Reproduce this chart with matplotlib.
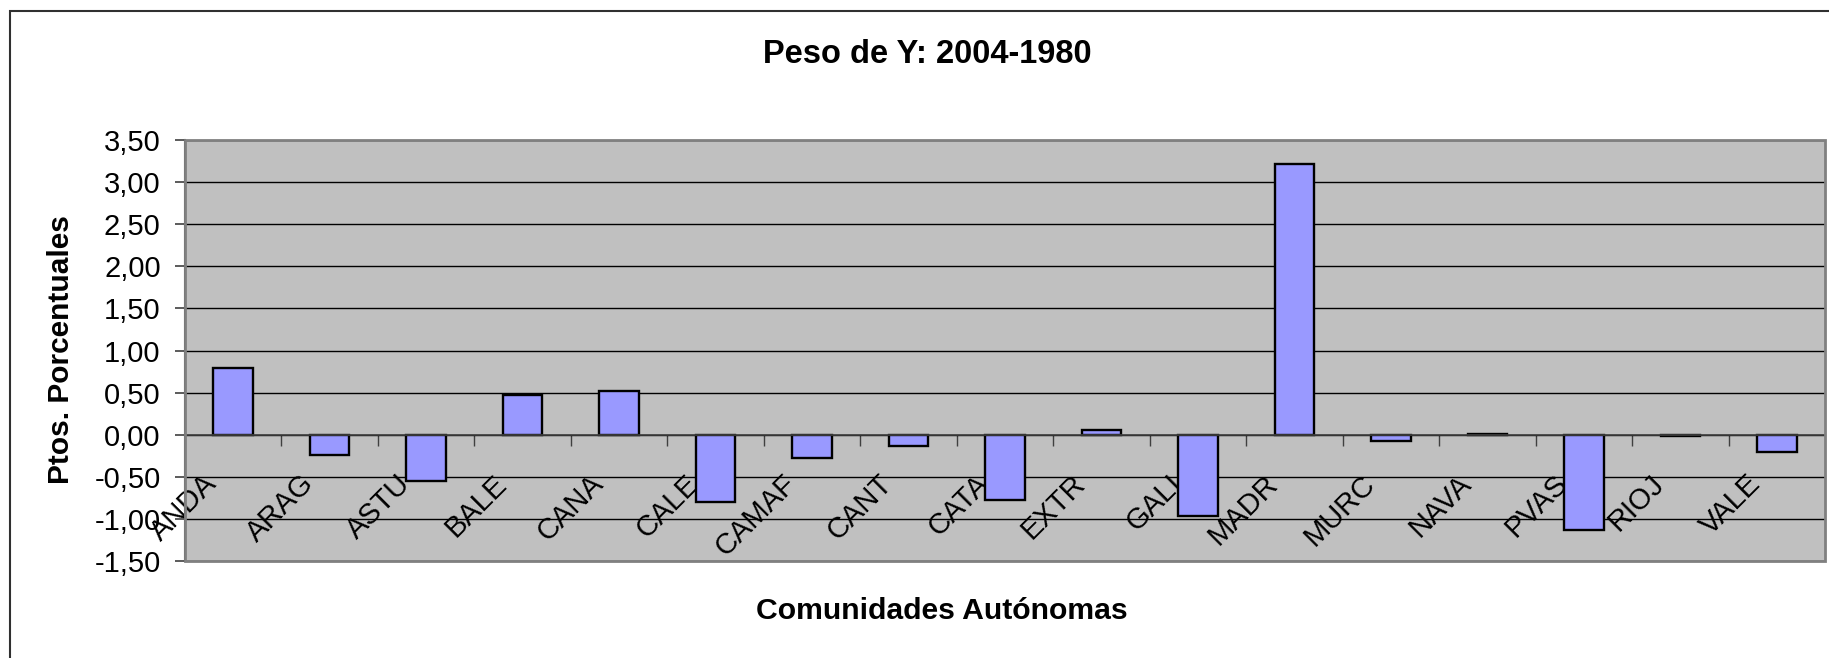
import numpy as np
import matplotlib
matplotlib.use('Agg')
import matplotlib.pyplot as plt
from matplotlib.patches import Rectangle
from matplotlib.ticker import FuncFormatter

plt.rcParams['font.family'] = ['Liberation Sans', 'DejaVu Sans']

# data
comunidades = ['ANDA', 'ARAG', 'ASTU', 'BALE', 'CANA', 'CALE', 'CAMAF', 'CANT', 'CATA',
               'EXTR', 'GALI', 'MADR', 'MURC', 'NAVA', 'PVAS', 'RIOJ', 'VALE']
peso = [0.79, -0.24, -0.55, 0.47, 0.52, -0.80, -0.28, -0.14, -0.77,
        0.06, -0.96, 3.22, -0.08, 0.01, -1.13, -0.02, -0.20]
y_ticks = [-1.5, -1.0, -0.5, 0.0, 0.5, 1.0, 1.5, 2.0, 2.5, 3.0, 3.5]

W, H = 1829, 658
fig = plt.figure(figsize=(W / 100, H / 100), dpi=100)

# outer chart border (right and bottom edges fall outside the picture)
fig.patches.append(Rectangle((9.5 / W, -0.1), 1.2, 1.1 - 11 / H, transform=fig.transFigure,
                             fill=False, edgecolor='#303030', linewidth=1.5))

left, right, top, bottom = 185, 1825, 140, 561
ax = fig.add_axes([left / W, 1 - bottom / H, (right - left) / W, (bottom - top) / H])
ax.set_facecolor('#c0c0c0')

x = np.arange(len(comunidades))
ax.bar(x, peso, width=0.41, color='#9999ff', edgecolor='black', linewidth=1.7, zorder=3)

ax.set_xlim(-0.5, len(comunidades) - 0.5)
ax.set_ylim(y_ticks[0], y_ticks[-1])
ax.set_yticks(y_ticks)
ax.yaxis.set_major_formatter(FuncFormatter(lambda v, p: f'{v:.2f}'.replace('.', ',')))
ax.yaxis.grid(True, color='black', linewidth=1.0)
ax.set_axisbelow(True)
ax.tick_params(axis='y', labelsize=21, length=7.5, width=1.2, color='#404040', pad=10)

# category axis crosses at zero, ticks between categories
for s in ['top', 'right']:
    ax.spines[s].set_visible(False)
ax.spines['bottom'].set_position(('data', 0))
ax.spines['bottom'].set_color('#404040')
ax.spines['bottom'].set_linewidth(1.2)
ax.spines['bottom'].set_zorder(4)
ax.spines['left'].set_color('#404040')
ax.spines['left'].set_linewidth(1.5)
ax.set_xticks(np.arange(0.5, len(comunidades) - 0.5), labels=[])
ax.tick_params(axis='x', which='major', direction='out', length=8, width=1, color='#404040')
ax.set_xticks(x - 0.11, labels=comunidades, minor=True)
ax.tick_params(axis='x', which='minor', length=0, pad=25, labelsize=21)
for lab in ax.get_xticklabels(minor=True):
    lab.set_rotation(45)
    lab.set_ha('right')
    lab.set_va('top')

ax.add_patch(Rectangle((0, 0), 1, 1, transform=ax.transAxes, fill=False,
                       edgecolor='#808080', linewidth=2, clip_on=False, zorder=5))

fig.text(927 / W, 1 - 63 / H, 'Peso de Y: 2004-1980', ha='center', va='baseline',
         fontsize=23.5, fontweight='bold')
fig.text(942 / W, 1 - 619 / H, 'Comunidades Autónomas', ha='center', va='baseline',
         fontsize=21.7, fontweight='bold')
fig.text(61 / W, 1 - 350 / H, 'Ptos. Porcentuales', ha='center', va='center',
         rotation=90, fontsize=21.5, fontweight='bold')

fig.savefig('out.png', dpi=100)
